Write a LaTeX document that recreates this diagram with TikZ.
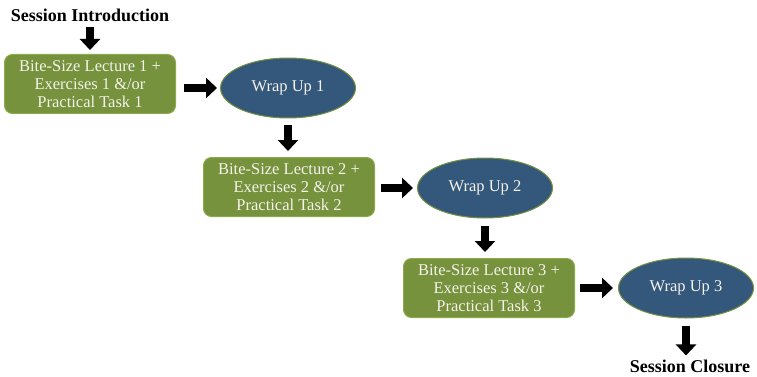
\documentclass[tikz,border=0pt]{standalone}
\usepackage{fontspec}
\setmainfont{Liberation Serif}
\usetikzlibrary{arrows.meta,shapes.geometric}
\definecolor{boxgreen}{HTML}{76923C}
\definecolor{boxedge}{HTML}{8DAA4A}
\definecolor{ellblue}{HTML}{34587C}
\definecolor{txtlight}{HTML}{F4F2EA}
\begin{document}
\begin{tikzpicture}[x=1pt,y=-1pt,
 stepbox/.style={rectangle, rounded corners=8pt, fill=boxgreen, draw=boxedge, line width=1pt, minimum width=171pt, minimum height=59pt, text=txtlight, align=center, font=\fontsize{16.5}{18}\selectfont, inner sep=0pt},
 wrap/.style={ellipse, fill=ellblue, draw=boxgreen, line width=1pt, minimum width=135pt, minimum height=60pt, text=txtlight, inner sep=0pt, font=\fontsize{16.5}{18}\selectfont},
 heading/.style={font=\bfseries\fontsize{18}{20}\selectfont, inner sep=0pt},
 blk/.style={line width=8pt, -{Triangle[length=11pt,width=20pt]}}
]
\useasboundingbox (0,0) rectangle (757,377);
\node[heading] (intro) at (90,15) {Session Introduction};
\node[stepbox] (b1) at (90,84) {Bite-Size Lecture 1 +\\Exercises 1 \&/or\\Practical Task 1};
\node[wrap] (w1) at (288,88) {Wrap Up 1};
\node[stepbox] (b2) at (289,187) {Bite-Size Lecture 2 +\\Exercises 2 \&/or\\Practical Task 2};
\node[wrap] (w2) at (485,188) {Wrap Up 2};
\node[stepbox] (b3) at (489,288) {Bite-Size Lecture 3 +\\Exercises 3 \&/or\\Practical Task 3};
\node[wrap] (w3) at (686,288) {Wrap Up 3};
\node[heading] (closure) at (690,366) {Session Closure};

\draw[blk, shorten <=5pt, shorten >=4pt] (intro.south) -- (b1.north);
\draw[blk, shorten <=8pt, shorten >=3pt] (b1.east |- w1.west) -- (w1.west);
\draw[blk, shorten <=7pt, shorten >=6pt] (w1.south) -- (w1.south |- b2.north);
\draw[blk, shorten <=6pt, shorten >=4pt] (b2.east |- w2.west) -- (w2.west);
\draw[blk, shorten <=7pt, shorten >=6pt] (w2.south) -- (w2.south |- b3.north);
\draw[blk, shorten <=5pt, shorten >=5pt] (b3.east |- w3.west) -- (w3.west);
\draw[blk, shorten <=7pt, shorten >=4pt] (w3.south) -- (w3.south |- closure.north);
\end{tikzpicture}
\end{document}
